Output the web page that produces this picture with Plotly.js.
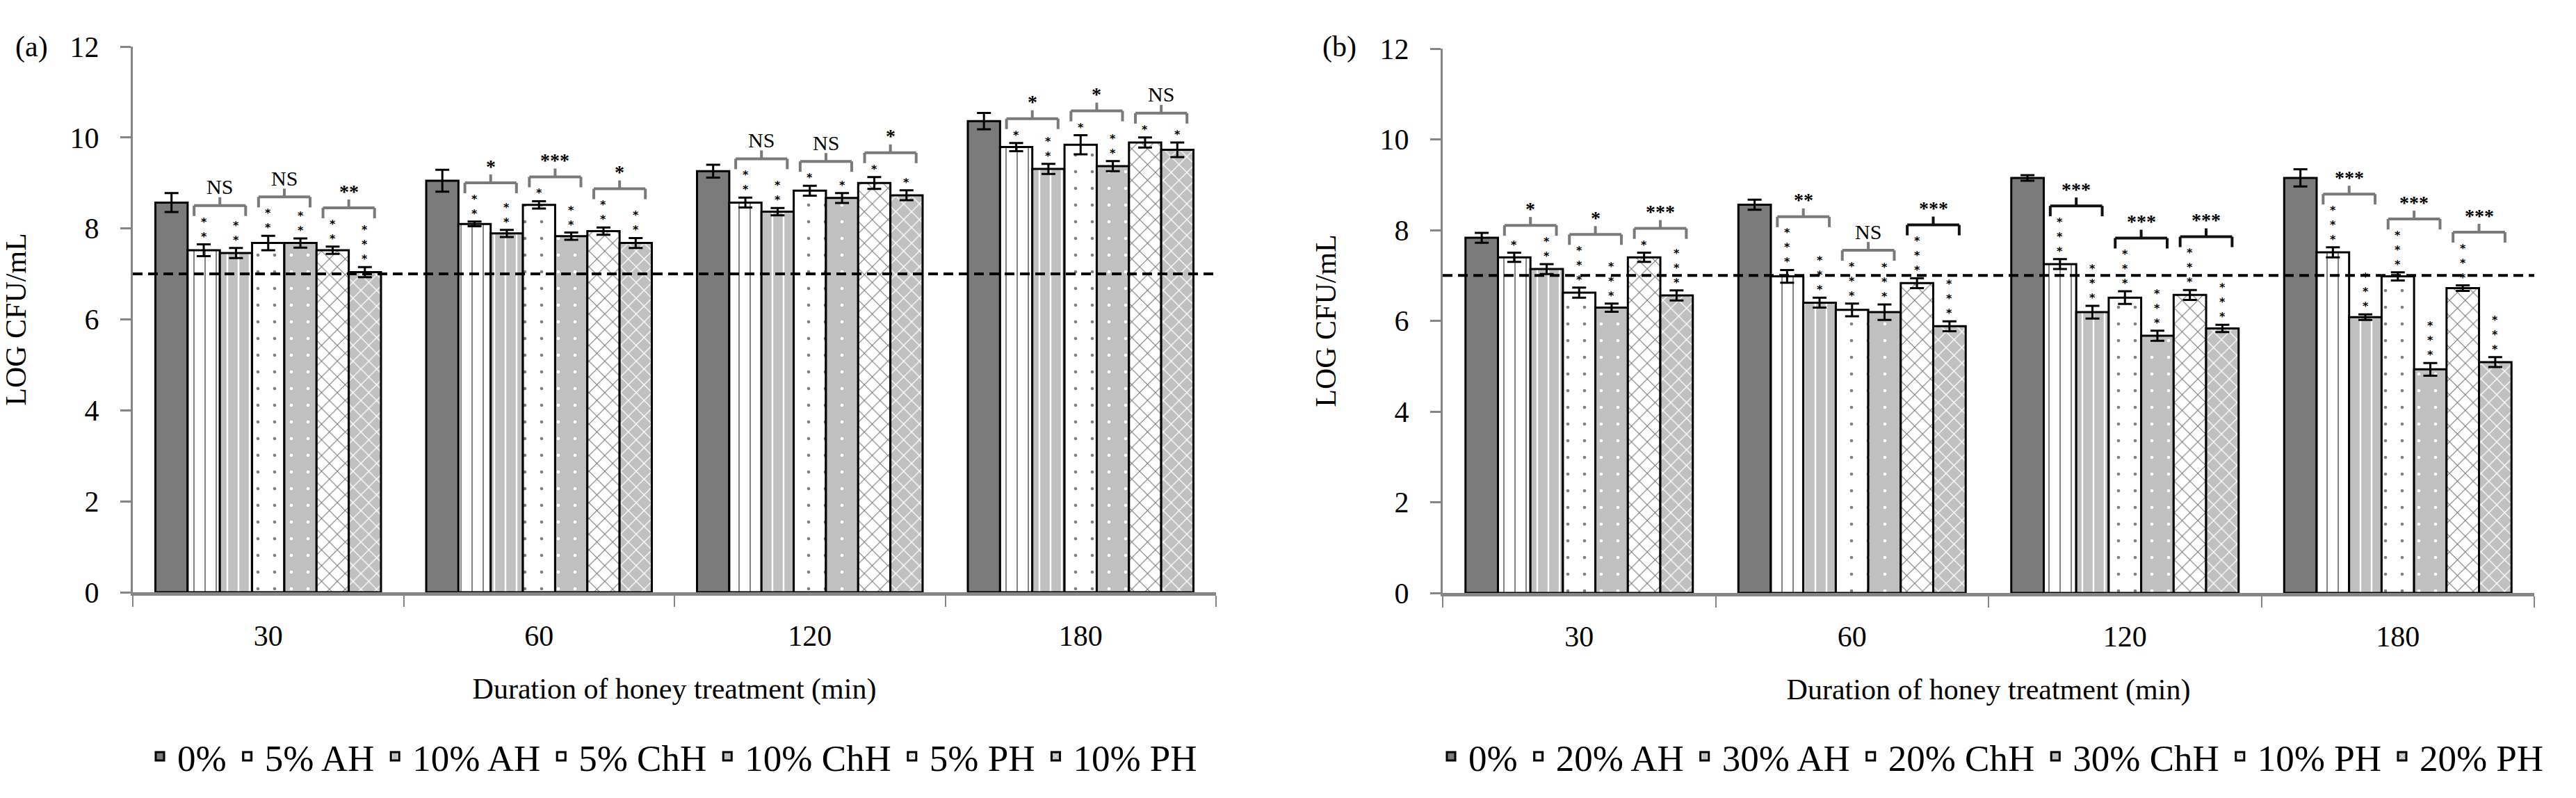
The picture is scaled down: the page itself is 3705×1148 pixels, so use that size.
<!DOCTYPE html>
<html><head><meta charset="utf-8">
<script src="https://cdn.plot.ly/plotly-3.0.1.min.js"></script>
<style>html,body{margin:0;padding:0;background:#fff}</style>
</head><body>
<div id="chart" style="width:3705px;height:1148px"></div>
<script>
// ---------------- DATA ----------------
const categories = ['30', '60', '120', '180'];
const namesA = ['0%', '5% AH', '10% AH', '5% ChH', '10% ChH', '5% PH', '10% PH'];
const namesB = ['0%', '20% AH', '30% AH', '20% ChH', '30% ChH', '10% PH', '20% PH'];

// Panel (a) means (LOG CFU/mL)
const a_0     = [8.57, 9.05, 9.26, 10.36];
const a_5AH   = [7.52, 8.10, 8.57, 9.79];
const a_10AH  = [7.46, 7.89, 8.37, 9.31];
const a_5ChH  = [7.68, 8.52, 8.83, 9.84];
const a_10ChH = [7.68, 7.83, 8.67, 9.37];
const a_5PH   = [7.52, 7.94, 9.00, 9.89];
const a_10PH  = [7.04, 7.68, 8.73, 9.73];
// Panel (a) error bars
const ea_0     = [0.21, 0.24, 0.14, 0.18];
const ea_5AH   = [0.13, 0.05, 0.11, 0.09];
const ea_10AH  = [0.11, 0.08, 0.08, 0.11];
const ea_5ChH  = [0.16, 0.08, 0.11, 0.21];
const ea_10ChH = [0.10, 0.08, 0.11, 0.11];
const ea_5PH   = [0.08, 0.08, 0.13, 0.11];
const ea_10PH  = [0.11, 0.11, 0.11, 0.16];
// Panel (a) significance vs control (number of stars per treated bar, per duration)
const starsA = [[2, 2, 2, 2, 2, 3], [2, 2, 1, 2, 2, 2], [2, 2, 1, 1, 1, 1], [1, 2, 1, 2, 1, 1]];
// Panel (a) pairwise brackets (AH pair, ChH pair, PH pair)
const sigA = [['NS', 'NS', '**'], ['*', '***', '*'], ['NS', 'NS', '*'], ['*', '*', 'NS']];

// Panel (b) means
const b_0      = [7.83, 8.56, 9.15, 9.15];
const b_20AH   = [7.40, 6.98, 7.25, 7.51];
const b_30AH   = [7.14, 6.40, 6.19, 6.08];
const b_20ChH  = [6.62, 6.24, 6.51, 6.98];
const b_30ChH  = [6.29, 6.19, 5.67, 4.93];
const b_10PH   = [7.40, 6.83, 6.57, 6.72];
const b_20PH   = [6.56, 5.88, 5.83, 5.09];
// Panel (b) error bars
const eb_0     = [0.11, 0.11, 0.06, 0.19];
const eb_20AH  = [0.10, 0.14, 0.11, 0.11];
const eb_30AH  = [0.11, 0.11, 0.14, 0.06];
const eb_20ChH = [0.11, 0.14, 0.14, 0.09];
const eb_30ChH = [0.09, 0.17, 0.11, 0.14];
const eb_10PH  = [0.10, 0.11, 0.11, 0.06];
const eb_20PH  = [0.11, 0.11, 0.08, 0.11];
const starsB = [[1, 2, 3, 3, 1, 3], [3, 3, 3, 3, 3, 3], [3, 3, 3, 3, 3, 3], [3, 3, 3, 3, 3, 3]];
const sigB = [['*', '*', '***'], ['**', 'NS', '***'], ['***', '***', '***'], ['***', '***', '***']];

const threshold = 7;
const yTicks = [0, 2, 4, 6, 8, 10, 12];

// ---------------- STYLE ----------------
const W = 3705, H = 1148;
const FONT = 'Liberation Serif, Times New Roman, serif';
const STAR_FONT = 'DejaVu Sans, sans-serif';
const AXC = '#868686';
const BARGAP = 0.167;
const STAR_SIZE = 16;
const STAR_STEP = STAR_SIZE * 1.3;   // line spacing of a stacked star label
// which bracket lines are drawn in black instead of grey (per duration, per pair)
const bracketDarkA = [[0, 0, 0], [0, 0, 0], [0, 0, 0], [0, 0, 0]];
const bracketDarkB = [[0, 0, 0], [0, 0, 1], [1, 1, 1], [0, 0, 0]];
const styles = [
  {color: '#7b7b7b', pattern: {shape: ''}},
  {color: '#ffffff', pattern: {shape: '|', fgcolor: '#808080', bgcolor: '#ffffff', size: 16, solidity: 0.12}},
  {color: '#c0c0c0', pattern: {shape: '|', fgcolor: '#ffffff', bgcolor: '#c0c0c0', size: 16, solidity: 0.15}},
  {color: '#ffffff', pattern: {shape: '.', fgcolor: '#808080', bgcolor: '#ffffff', size: 24, solidity: 0.03}},
  {color: '#c0c0c0', pattern: {shape: '.', fgcolor: '#ffffff', bgcolor: '#c0c0c0', size: 24, solidity: 0.03}},
  {color: '#ffffff', pattern: {shape: 'x', fgcolor: '#707070', bgcolor: '#ffffff', size: 16, solidity: 0.12}},
  {color: '#c0c0c0', pattern: {shape: 'x', fgcolor: '#ffffff', bgcolor: '#c0c0c0', size: 16, solidity: 0.15}}
];

const panels = [
  {names: namesA, vals: [a_0, a_5AH, a_10AH, a_5ChH, a_10ChH, a_5PH, a_10PH],
   errs: [ea_0, ea_5AH, ea_10AH, ea_5ChH, ea_10ChH, ea_5PH, ea_10PH],
   stars: starsA, sig: sigA, dark: bracketDarkA, xa: 'x', ya: 'y', leg: 'legend',
   xdom: [191 / W, 1749 / W], ytop: 67, ybot: 852, label: '(a)', labelX: 45, legX: 966},
  {names: namesB, vals: [b_0, b_20AH, b_30AH, b_20ChH, b_30ChH, b_10PH, b_20PH],
   errs: [eb_0, eb_20AH, eb_30AH, eb_20ChH, eb_30ChH, eb_10PH, eb_20PH],
   stars: starsB, sig: sigB, dark: bracketDarkB, xa: 'x2', ya: 'y2', leg: 'legend2',
   xdom: [2075 / W, 3645 / W], ytop: 70, ybot: 853, label: '(b)', labelX: 1926, legX: 2863}
];

const traces = [], annotations = [], shapes = [];
const bw = (1 - BARGAP) / 7;
const layout = {
  width: W, height: H, margin: {l: 0, r: 0, t: 0, b: 0},
  paper_bgcolor: '#ffffff', plot_bgcolor: 'rgba(0,0,0,0)',
  barmode: 'group', bargap: BARGAP, bargroupgap: 0,
  font: {family: FONT, color: '#000'},
  showlegend: true
};

panels.forEach((p, pi) => {
  const pxPerUnit = (p.ybot - p.ytop) / 12;
  const sfx = pi === 0 ? '' : '2';
  p.names.forEach((nm, j) => {
    traces.push({
      type: 'bar', name: nm, x: categories, y: p.vals[j],
      xaxis: p.xa, yaxis: p.ya, legend: p.leg,
      marker: {color: styles[j].color, pattern: styles[j].pattern, line: {color: '#000', width: 3}},
      error_y: {type: 'data', array: p.errs[j], visible: true, color: '#000', thickness: 3, width: 10},
      hoverinfo: 'skip'
    });
  });
  categories.forEach((c, i) => {
    const starTop = [];
    for (let j = 1; j < 7; j++) {
      const n = p.stars[i][j - 1];
      const top = p.vals[j][i] + p.errs[j][i];
      const xc = i + (j - 3) * bw;
      annotations.push({xref: p.xa, yref: p.ya, x: xc, y: top, yshift: 0,
        text: Array(n).fill('*').join('<br>'), showarrow: false, yanchor: 'bottom', xanchor: 'center',
        font: {family: STAR_FONT, size: STAR_SIZE, color: '#000', weight: 'bold'}});
      starTop.push(top + (13 + STAR_STEP * (n - 1)) / pxPerUnit);
    }
    for (let q = 0; q < 3; q++) {
      const j1 = 1 + 2 * q, j2 = j1 + 1;
      const x1 = i + (j1 - 3) * bw - 0.3 * bw;
      const x2 = i + (j2 - 3) * bw + 0.3 * bw;
      const xm = (x1 + x2) / 2;
      const yb = Math.max(starTop[2 * q], starTop[2 * q + 1]) + 22 / pxPerUnit;
      const lineStyle = {color: p.dark[i][q] ? '#111111' : '#7a7a7a', width: 4};
      const base = {type: 'line', xref: p.xa, yref: p.ya, ysizemode: 'pixel', yanchor: yb, line: lineStyle};
      shapes.push(Object.assign({}, base, {x0: x1, x1: x2, y0: 0, y1: 0}));
      shapes.push(Object.assign({}, base, {x0: x1, x1: x1, y0: 0, y1: -15}));
      shapes.push(Object.assign({}, base, {x0: x2, x1: x2, y0: 0, y1: -15}));
      shapes.push(Object.assign({}, base, {x0: xm, x1: xm, y0: 0, y1: 12}));
      const lab = p.sig[i][q];
      const isNS = lab === 'NS';
      annotations.push({xref: p.xa, yref: p.ya, x: xm, y: yb, yshift: isNS ? 27 : 24,
        text: lab, showarrow: false, yanchor: 'middle', xanchor: 'center',
        font: {family: FONT, size: isNS ? 30 : 28, color: '#000', weight: isNS ? 'normal' : 'bold'}});
    }
  });
  shapes.push({type: 'line', xref: p.xa + ' domain', yref: p.ya, x0: 0, x1: 1, y0: threshold, y1: threshold,
    line: {color: '#000', width: 4, dash: '14px,8px'}});
  annotations.push({xref: 'paper', yref: 'paper', x: p.labelX / W, y: 1 - 67 / H, text: p.label,
    showarrow: false, xanchor: 'center', yanchor: 'middle', font: {family: FONT, size: 42, color: '#000'}});

  layout['xaxis' + sfx] = {
    domain: p.xdom, anchor: p.ya, type: 'category', tickson: 'boundaries',
    ticks: 'outside', ticklen: 16, tickwidth: 2, tickcolor: AXC,
    showline: true, linecolor: AXC, linewidth: 5, showgrid: false, zeroline: false,
    tickfont: {family: FONT, size: 42, color: '#000'}, ticklabelstandoff: 22,
    title: {text: 'Duration of honey treatment (min)', font: {family: FONT, size: 42, color: '#000'}, standoff: 40},
    fixedrange: true
  };
  layout['yaxis' + sfx] = {
    domain: [1 - p.ybot / H, 1 - p.ytop / H], anchor: p.xa, range: [0, 12],
    tickvals: yTicks, ticks: 'outside', ticklen: 15, tickwidth: 3, tickcolor: AXC,
    showline: true, linecolor: AXC, linewidth: 3, showgrid: false, zeroline: false,
    tickfont: {family: FONT, size: 42, color: '#000'}, ticklabelstandoff: 22,
    title: {text: 'LOG CFU/mL', font: {family: FONT, size: 42, color: '#000'}, standoff: 50},
    fixedrange: true
  };
  layout[p.leg] = {orientation: 'h', x: p.legX / W, xanchor: 'center', y: 1 - 1088 / H, yanchor: 'middle',
    font: {family: FONT, size: 53, color: '#000'}, bgcolor: 'rgba(0,0,0,0)', itemwidth: 40,
    traceorder: 'normal'};
});
layout.annotations = annotations;
layout.shapes = shapes;

Plotly.newPlot('chart', traces, layout, {staticPlot: true, displayModeBar: false});
</script>
</body></html>
